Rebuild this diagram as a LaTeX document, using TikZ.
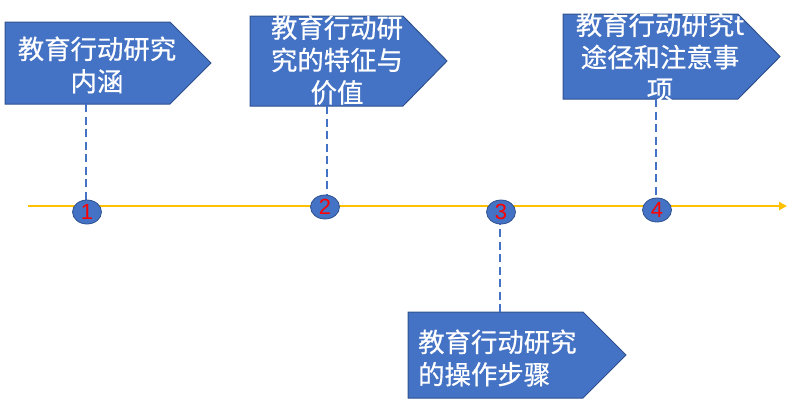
\documentclass[tikz,border=0pt]{standalone}
\usepackage{fontspec}
\newfontfamily\cjk[FakeBold=0.6]{Noto Sans CJK SC}
\newfontfamily\numfont{Liberation Sans}
\usetikzlibrary{arrows.meta,shapes.geometric}
\definecolor{boxblue}{HTML}{4472C4}
\definecolor{boxedge}{HTML}{2F528F}
\definecolor{axisyellow}{HTML}{FFC000}
\tikzset{
  homeplate/.style={fill=boxblue, draw=boxedge, line width=1bp},
  boxtext/.style={text=white, inner sep=0pt, font=\cjk\fontsize{26.5}{32.5}\selectfont},
  numcircle/.style={ellipse, fill=boxblue, draw=boxedge, line width=0.8bp,
    minimum width=29bp, minimum height=24bp, inner sep=0pt,
    text=red, font=\numfont\fontsize{22}{22}\selectfont},
  axisline/.style={draw=axisyellow, line width=2bp, -{Triangle[length=8bp,width=8bp]}},
  guide/.style={draw=boxblue, line width=2.2bp, dash pattern=on 8bp off 4.5bp}
}
\begin{document}
\begin{tikzpicture}[x=1bp,y=-1bp]
\useasboundingbox (0,0) rectangle (796,404);
% boxes
\path[homeplate] (5,22) -- (170,22) -- (211,63) -- (170,104) -- (5,104) -- cycle;
\path[homeplate] (250,16) -- (403,16) -- (447,61) -- (403,106) -- (250,106) -- cycle;
\path[homeplate] (563,14) -- (738,14) -- (780,56.5) -- (738,99) -- (563,99) -- cycle;
\path[homeplate] (408,312) -- (583,312) -- (626,355) -- (583,398) -- (408,398) -- cycle;
\node[boxtext, align=center] (t1) at (97,65) {教育行动研究\\内涵};
\node[boxtext, align=center] (t2) at (337,60) {教育行动研\\究的特征与\\价值};
\node[boxtext, align=center] (t3) at (660,57) {教育行动研究t\\途径和注意事\\项};
\node[boxtext, align=left, anchor=west] (t4) at (418,358) {教育行动研究\\的操作步骤};
\coordinate (b1s) at (86,104);
\coordinate (b2s) at (327,106);
\coordinate (b3s) at (656,99);
\coordinate (b4n) at (500,312);
% axis
\coordinate (axs) at (28,206);
\coordinate (axe) at (787,206);
\draw[axisline] (axs) -- (axe);
% circles (positions)
\coordinate (p1) at (87,212);
\coordinate (p2) at (325,207);
\coordinate (p3) at (501,212);
\coordinate (p4) at (657,210);
% guides
\draw[guide] (b1s) -- (b1s |- p1);
\draw[guide] (b2s) -- (b2s |- p2);
\draw[guide] (b3s) -- (b3s |- p4);
\draw[guide] (b4n) -- (b4n |- p3);
\node[numcircle] (c1) at (p1) {1};
\node[numcircle] (c2) at (p2) {2};
\node[numcircle] (c3) at (p3) {3};
\node[numcircle] (c4) at (p4) {4};
\end{tikzpicture}
\end{document}
